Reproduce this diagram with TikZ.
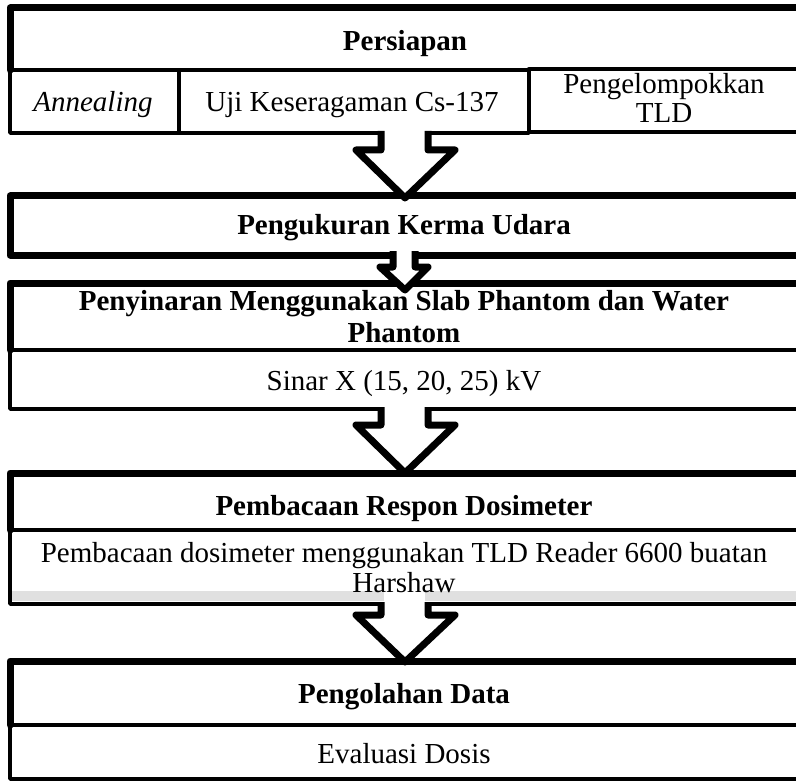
\documentclass[tikz,border=0pt]{standalone}
\usepackage{fontspec}
\setmainfont{Liberation Serif}
\begin{document}
\begin{tikzpicture}[x=1pt,y=-1pt,
  thickline/.style={line width=7pt, line join=round, line cap=round},
  thinline/.style={line width=3.5pt, line join=round},
  lbl/.style={inner sep=0pt, anchor=base, font=\fontsize{29pt}{31pt}\selectfont},
  hdr/.style={lbl, font=\fontsize{29pt}{31pt}\selectfont\bfseries},
  ital/.style={lbl, font=\fontsize{29pt}{31pt}\selectfont\itshape},
  blkarrow/.style={line width=7pt, line join=round, fill=white},
  shade/.style={fill=black!12}]
\useasboundingbox (0,0) rectangle (796,781);
\clip (0,0) rectangle (796,781);

% ---- Box 1: Persiapan
\draw[thickline] (10,70) -- (10,8) -- (805,8);
\draw[thinline] (10,70) rectangle (179,133);
\draw[thinline] (179,70) rectangle (529,133);
\draw[thinline, line width=4.5pt] (529,69) rectangle (805,132);

% ---- Box 2
\draw[thickline] (10,196) rectangle (805,255);

% ---- Box 3
\draw[thickline] (10,350) -- (10,283) -- (805,283);
\draw[thinline] (10,350) rectangle (805,409);

% ---- Box 4
\fill[shade] (12,591) rectangle (384,601);
\fill[shade] (425,591) rectangle (805,601);
\draw[thickline] (10,530) -- (10,473) -- (805,473);
\draw[thinline] (10,530) rectangle (805,604);

% ---- Box 5
\draw[thickline] (10,725) -- (10,661) -- (805,661);
\draw[thinline] (10,725) rectangle (805,779);

% ---- Block arrows
\draw[blkarrow] (381,131) -- (381,150) -- (356,150) -- (405,198) -- (455,150) -- (428,150) -- (428,131);
\draw[blkarrow] (393,251) -- (393,267) -- (380,267) -- (405,290) -- (428,267) -- (415,267) -- (415,251);
\draw[blkarrow] (381,407) -- (381,425) -- (356,425) -- (405,473) -- (455,425) -- (428,425) -- (428,407);
\draw[blkarrow] (381,602) -- (381,615) -- (356,615) -- (405,662) -- (455,615) -- (428,615) -- (428,602);

% ---- Texts
\node[hdr] (t1) at (405,51) {Persiapan};
\node[ital] (t1a) at (93,112) {Annealing};
\node[lbl] (t1b) at (352,112) {Uji Keseragaman Cs-137};
\node[lbl] (t1c) at (664,94) {Pengelompokkan};
\node[lbl] (t1d) at (664,123) {TLD};
\node[hdr] (t2) at (404,235) {Pengukuran Kerma Udara};
\node[hdr] (t3) at (404,310) {Penyinaran Menggunakan Slab Phantom dan Water};
\node[hdr] (t3b) at (404,342) {Phantom};
\node[lbl] (t3s) at (404,390) {Sinar X (15, 20, 25) kV};
\node[hdr] (t4) at (404,515) {Pembacaan Respon Dosimeter};
\node[lbl] (t4s) at (404,562) {Pembacaan dosimeter menggunakan TLD Reader 6600 buatan};
\node[lbl] (t4t) at (404,592) {Harshaw};
\node[hdr] (t5) at (404,703) {Pengolahan Data};
\node[lbl] (t5s) at (404,763) {Evaluasi Dosis};
\end{tikzpicture}
\end{document}
